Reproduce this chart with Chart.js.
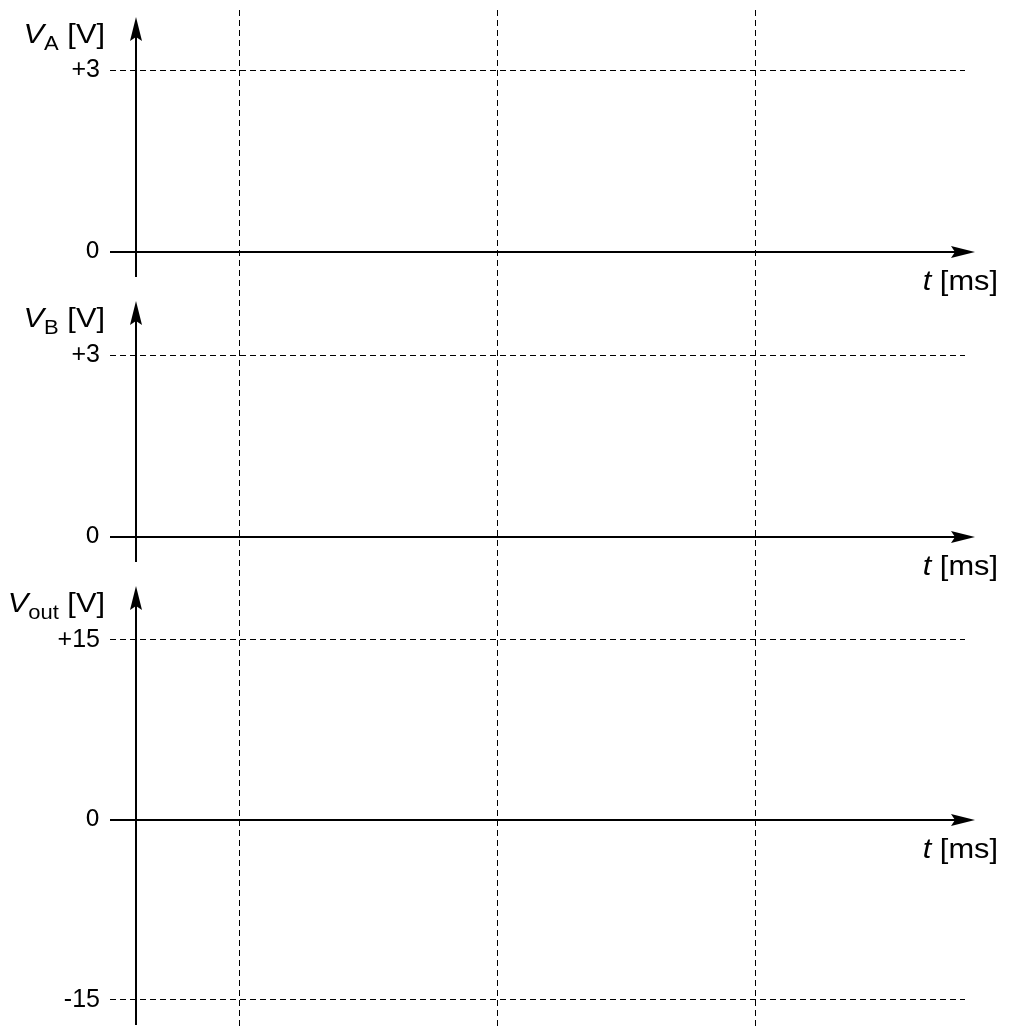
<!DOCTYPE html>
<html>
<head>
<meta charset="utf-8">
<title>V_A, V_B, V_out vs t</title>
<script src="https://cdn.jsdelivr.net/npm/chart.js@4/dist/chart.umd.min.js"></script>
<style>
  body { margin: 0; background: #fff; }
  #wrap { width: 1009px; height: 1027px; position: relative; }
</style>
</head>
<body>
<div id="wrap"><canvas id="chart"></canvas></div>
<script>
// time axis (ms, arbitrary units of the worksheet)
const tMarks = [1, 2, 3];       // dashed guide lines
const tOrigin = 0.6;            // where the voltage axes stand
const tRange = [0.5, 3.81];
const tArrowEnd = 3.85;

// voltage axes
const ticksA = [0, 3];
const ticksB = [0, 3];
const ticksOut = [-15, 0, 15];
const rangeA = [-0.61, 4.0];
const rangeB = [-0.63, 4.09];
const rangeOut = [-17.25, 20.4];

// signals (empty worksheet, nothing plotted yet)
const vA = [];
const vB = [];
const vOut = [];

const SX = 1.1; // text in the source is a bit wide

const panels = [
    { id: 'yA', sub: 'A', ticks: ticksA, range: rangeA, h: 279, w: 3 },
    { id: 'yB', sub: 'B', ticks: ticksB, range: rangeB, h: 286, w: 2 },
    { id: 'yOut', sub: 'out', ticks: ticksOut, range: rangeOut, h: 452, w: 1 }
];

function fmtTick(v) {
    return v > 0 ? '+' + v : String(v);
}

function noPad(s) {
    s.paddingTop = 0;
    s.paddingBottom = 0;
    s.paddingLeft = 0;
    s.paddingRight = 0;
}

function yScale(p) {
    return {
        type: 'linear',
        position: 'left',
        stack: 'volts',
        stackWeight: p.h,
        weight: p.w,
        min: p.range[0],
        max: p.range[1],
        afterBuildTicks: s => { s.ticks = p.ticks.map(v => ({ value: v })); },
        afterFit: s => { s.width = 110; noPad(s); },
        grid: {
            drawTicks: false,
            lineWidth: 1,
            color: c => (c.tick && c.tick.value === 0) ? 'rgba(0,0,0,0)' : '#000'
        },
        border: { display: false, dash: [6, 4] },
        ticks: {
            autoSkip: false,
            padding: 10,
            color: '#000',
            callback: fmtTick,
            font: c => (c.tick && c.tick.value === 0)
                ? { family: 'DejaVu Sans', size: 23 }
                : { family: 'Liberation Sans', size: 25 }
        }
    };
}

function arrowUp(ctx, x, y) {
    ctx.beginPath();
    ctx.moveTo(x, y);
    ctx.lineTo(x + 6, y + 24);
    ctx.lineTo(x, y + 20);
    ctx.lineTo(x - 6, y + 24);
    ctx.closePath();
    ctx.fill();
}

function arrowRight(ctx, x, y) {
    ctx.beginPath();
    ctx.moveTo(x, y);
    ctx.lineTo(x - 24, y - 6);
    ctx.lineTo(x - 20, y);
    ctx.lineTo(x - 24, y + 6);
    ctx.closePath();
    ctx.fill();
}

function drawTitle(ctx, sub, rightX, baseY) {
    ctx.font = 'italic 28px "Liberation Sans"';
    const wV = ctx.measureText('V').width;
    ctx.font = '20px "Liberation Sans"';
    const wS = ctx.measureText(sub).width;
    ctx.font = '28px "Liberation Sans"';
    const wU = ctx.measureText(' [V]').width;
    const total = (wV + wS + wU) * SX;
    ctx.save();
    ctx.translate(rightX - total, baseY);
    ctx.scale(SX, 1);
    ctx.textAlign = 'left';
    ctx.textBaseline = 'alphabetic';
    ctx.font = 'italic 28px "Liberation Sans"';
    ctx.fillText('V', 0, 0);
    ctx.font = '20px "Liberation Sans"';
    ctx.fillText(sub, wV, 7);
    ctx.font = '28px "Liberation Sans"';
    ctx.fillText(' [V]', wV + wS, 0);
    ctx.restore();
}

function drawTLabel(ctx, rightX, baseY) {
    ctx.font = 'italic 28px "Liberation Sans"';
    const wT = ctx.measureText('t').width;
    ctx.font = '28px "Liberation Sans"';
    const wU = ctx.measureText(' [ms]').width;
    const total = (wT + wU) * SX;
    ctx.save();
    ctx.translate(rightX - total, baseY);
    ctx.scale(SX, 1);
    ctx.textAlign = 'left';
    ctx.textBaseline = 'alphabetic';
    ctx.font = 'italic 28px "Liberation Sans"';
    ctx.fillText('t', 0, 0);
    ctx.font = '28px "Liberation Sans"';
    ctx.fillText(' [ms]', wT, 0);
    ctx.restore();
}

const axesPlugin = {
    id: 'axesPlugin',
    afterDraw(chart) {
        const ctx = chart.ctx;
        const xs = chart.scales.x;
        const x0 = Math.round(xs.getPixelForValue(tOrigin));
        const xEnd = Math.round(xs.getPixelForValue(tArrowEnd));
        const left = chart.chartArea.left;
        ctx.save();
        ctx.strokeStyle = '#000';
        ctx.fillStyle = '#000';
        ctx.lineWidth = 2;
        panels.forEach(p => {
            const ys = chart.scales[p.id];
            const y0 = Math.round(ys.getPixelForValue(0));
            const yTop = Math.round(ys.getPixelForValue(Math.max(...p.ticks)));
            const yLow = Math.round(ys.getPixelForValue(Math.min(...p.ticks)));
            const tipY = yTop - 54;

            ctx.beginPath();
            ctx.moveTo(x0, yLow + 25);
            ctx.lineTo(x0, tipY + 20);
            ctx.stroke();
            arrowUp(ctx, x0, tipY);

            ctx.beginPath();
            ctx.moveTo(left, y0);
            ctx.lineTo(xEnd - 20, y0);
            ctx.stroke();
            arrowRight(ctx, xEnd, y0);

            drawTitle(ctx, p.sub, 105, yTop - 28);
            drawTLabel(ctx, 998, y0 + 38);
        });
        ctx.restore();
    }
};

const scales = {
    x: {
        type: 'linear',
        position: 'bottom',
        min: tRange[0],
        max: tRange[1],
        afterBuildTicks: s => { s.ticks = tMarks.map(v => ({ value: v })); },
        afterFit: s => { s.height = 0; noPad(s); },
        grid: { drawTicks: false, lineWidth: 1, color: '#000' },
        border: { display: false, dash: [6, 4] },
        ticks: { display: false }
    }
};
panels.forEach(p => { scales[p.id] = yScale(p); });

new Chart(document.getElementById('chart'), {
    type: 'line',
    data: {
        datasets: [
            { label: 'V_A', data: vA, xAxisID: 'x', yAxisID: 'yA' },
            { label: 'V_B', data: vB, xAxisID: 'x', yAxisID: 'yB' },
            { label: 'V_out', data: vOut, xAxisID: 'x', yAxisID: 'yOut' }
        ]
    },
    options: {
        responsive: true,
        maintainAspectRatio: false,
        animation: false,
        layout: { padding: { top: 10, right: 44, bottom: 0, left: 0 } },
        plugins: { legend: { display: false }, tooltip: { enabled: false } },
        scales: scales
    },
    plugins: [axesPlugin]
});
</script>
</body>
</html>
